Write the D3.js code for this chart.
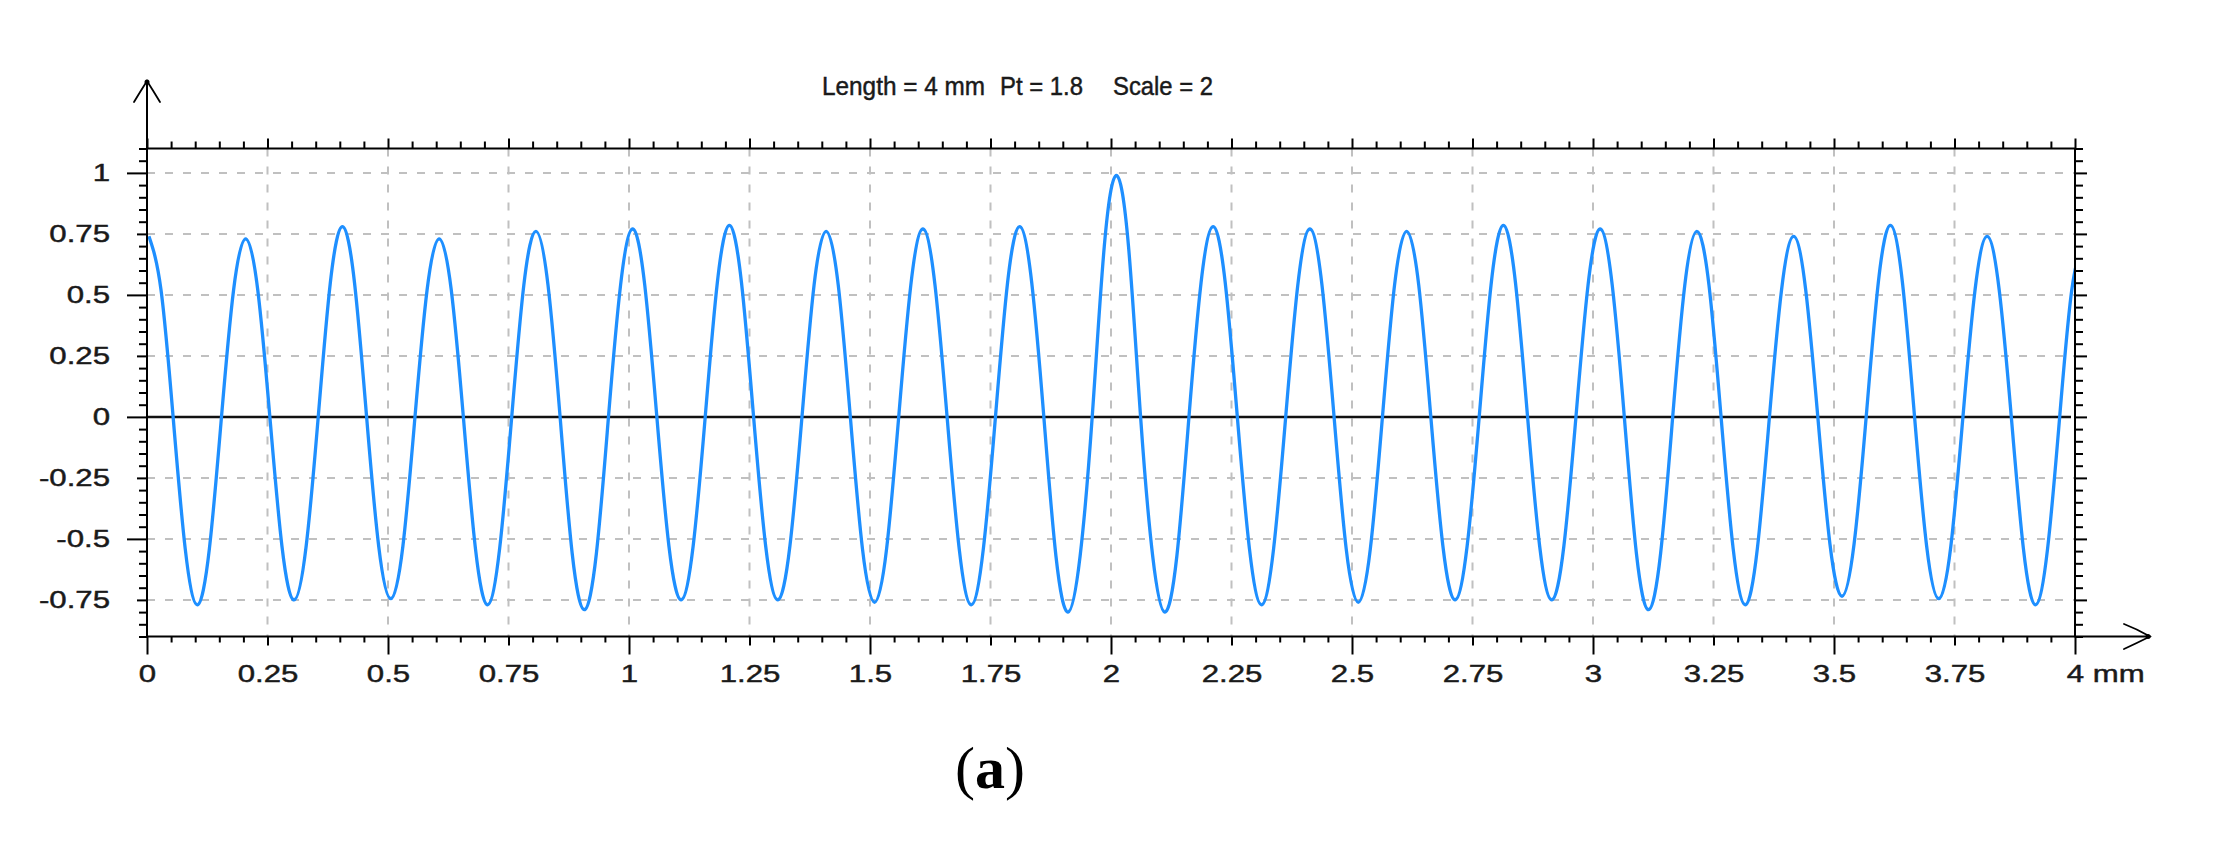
<!DOCTYPE html>
<html><head><meta charset="utf-8">
<script src="https://cdn.jsdelivr.net/npm/d3@7"></script>
<style>html,body{margin:0;padding:0;background:#fff}</style>
</head><body><svg id="chart" width="2226" height="850"></svg>
<script>
// ---------- data ----------
const titleParts = ["Length = 4 mm", "Pt = 1.8", "Scale = 2"];
const xDomain = [0, 4];
const yDomain = [-0.9, 1.1];
const xTickLabels = [0, 0.25, 0.5, 0.75, 1, 1.25, 1.5, 1.75, 2, 2.25, 2.5, 2.75, 3, 3.25, 3.5, 3.75, 4];
const yTickLabels = [-0.75, -0.5, -0.25, 0, 0.25, 0.5, 0.75, 1];
const xUnit = "mm";
const sampleStart = 0.004;   // mm, first sample of the profile
const sampleStep = 0.02509;  // mm between profile samples
const profile = [
  0.74, 0.52, 0, -0.54, -0.77, -0.54, 0, 0.52,
  0.73, 0.52, 0, -0.53, -0.75, -0.53, 0, 0.55,
  0.78, 0.55, 0, -0.53, -0.745, -0.53, 0, 0.52,
  0.73, 0.52, 0, -0.54, -0.77, -0.54, 0, 0.54,
  0.76, 0.54, 0, -0.56, -0.79, -0.56, 0, 0.54,
  0.77, 0.54, 0, -0.53, -0.75, -0.53, 0, 0.55,
  0.785, 0.55, 0, -0.53, -0.75, -0.53, 0, 0.54,
  0.76, 0.54, 0, -0.54, -0.76, -0.54, 0, 0.54,
  0.77, 0.54, 0, -0.54, -0.77, -0.54, 0, 0.55,
  0.78, 0.55, 0, -0.57, -0.80, -0.57, 0, 0.70,
  0.99, 0.70, 0, -0.57, -0.80, -0.57, 0, 0.55,
  0.78, 0.55, 0, -0.54, -0.77, -0.54, 0, 0.54,
  0.77, 0.54, 0, -0.54, -0.76, -0.54, 0, 0.54,
  0.76, 0.54, 0, -0.53, -0.75, -0.53, 0, 0.55,
  0.785, 0.55, 0, -0.53, -0.75, -0.53, 0, 0.54,
  0.77, 0.54, 0, -0.56, -0.79, -0.56, 0, 0.54,
  0.76, 0.54, 0, -0.54, -0.77, -0.54, 0, 0.52,
  0.74, 0.52, 0, -0.52, -0.735, -0.52, 0, 0.55,
  0.785, 0.55, 0, -0.53, -0.745, -0.53, 0, 0.52,
  0.74, 0.52, 0, -0.54, -0.77, -0.54, 0, 0.52,
  0.72
];
const panelLabel = "a";

// ---------- layout ----------
const L = 147, R = 2075, T = 148.5, B = 636.5;
const svg = d3.select("#chart");
svg.append("rect").attr("width", 2226).attr("height", 850).attr("fill", "#fff");

const x = d3.scaleLinear().domain(xDomain).range([L, R]);
const y = d3.scaleLinear().domain(yDomain).range([B, T]);

const FONT = "'Liberation Sans', Arial, sans-serif";
const SX = 1.3; // horizontal stretch of the original bitmap font
const TXT = "#1a1a1a";

// tick value sets (multiples of 0.05)
const xIdx = d3.range(0, 81);
const xMinor = xIdx.filter(i => i % 5 !== 0).map(i => i * 0.05);
const xMid = xIdx.filter(i => i % 5 === 0 && i % 10 !== 0).map(i => i * 0.05);
const xBig = xIdx.filter(i => i % 10 === 0).map(i => i * 0.05);
const xAll5 = xIdx.filter(i => i % 5 === 0).map(i => i * 0.05);
const yIdx = d3.range(-18, 23);
const yMinor = yIdx.filter(i => i % 5 !== 0).map(i => i * 0.05);
const yMid = yIdx.filter(i => i % 5 === 0 && i % 10 !== 0).map(i => i * 0.05);
const yBig = yIdx.filter(i => i % 10 === 0).map(i => i * 0.05);
const yAll5 = yIdx.filter(i => i % 5 === 0).map(i => i * 0.05);

// ---------- grid ----------
const grid = svg.append("g").attr("stroke", "#c0c0c0").attr("stroke-width", 2).attr("stroke-dasharray", "8,10");
grid.selectAll("line.v").data(xTickLabels.filter(d => d > 0 && d < 4)).join("line")
  .attr("x1", d => x(d)).attr("x2", d => x(d)).attr("y1", T).attr("y2", B);
grid.selectAll("line.h").data(yTickLabels.filter(d => d !== 0)).join("line")
  .attr("x1", L).attr("x2", R).attr("y1", d => y(d)).attr("y2", d => y(d));

// zero line
svg.append("line").attr("x1", L).attr("x2", R - 4).attr("y1", y(0)).attr("y2", y(0))
  .attr("stroke", "#111").attr("stroke-width", 2.5);

// ---------- profile ----------
svg.append("clipPath").attr("id", "clip").append("rect")
  .attr("x", L).attr("y", T).attr("width", R - L).attr("height", B - T);
const pts = profile.map((v, i) => [sampleStart + i * sampleStep, v]);
svg.append("path").datum(pts)
  .attr("clip-path", "url(#clip)")
  .attr("fill", "none").attr("stroke", "#1e8fff").attr("stroke-width", 3.3)
  .attr("stroke-linejoin", "round")
  .attr("d", d3.line().x(d => x(d[0])).y(d => y(d[1])).curve(d3.curveNatural));

// ---------- axes (ticks) ----------
function ticks(gen, vals, size, tx, ty) {
  const g = svg.append("g").attr("transform", `translate(${tx},${ty})`)
    .call(gen.tickValues(vals).tickSize(size).tickFormat(""));
  g.select(".domain").remove();
  g.selectAll(".tick line").attr("stroke", "#000").attr("stroke-width", 2);
  return g;
}
// bottom
ticks(d3.axisBottom(x), xMinor, 6, 0, B);
ticks(d3.axisBottom(x), xMid, 9, 0, B);
ticks(d3.axisBottom(x), xBig, 18, 0, B);
// top
ticks(d3.axisTop(x), xMinor, 7, 0, T);
ticks(d3.axisTop(x), xAll5, 10, 0, T);
// left
ticks(d3.axisLeft(y), yMinor, 8, L, 0);
ticks(d3.axisLeft(y), yMid, 10, L, 0);
ticks(d3.axisLeft(y), yBig, 20, L, 0);
// right
ticks(d3.axisRight(y), yMinor, 8, R, 0);
ticks(d3.axisRight(y), yAll5, 12, R, 0);

// frame
svg.append("rect").attr("x", L).attr("y", T).attr("width", R - L).attr("height", B - T)
  .attr("fill", "none").attr("stroke", "#000").attr("stroke-width", 2);

// ---------- tick labels ----------
const fmt = d => String(+d.toFixed(2));
const xl = svg.append("g").attr("transform", `translate(0,${B})`)
  .call(d3.axisBottom(x).tickValues(xTickLabels).tickSize(0).tickPadding(28.5).tickFormat(fmt));
xl.select(".domain").remove();
xl.selectAll("text").attr("font-family", FONT).attr("font-size", 24).attr("fill", TXT)
  .attr("stroke", TXT).attr("stroke-width", 0.45)
  .attr("transform", `scale(${SX},1)`);
xl.selectAll(".tick").filter(d => d === xDomain[1]).select("text")
  .attr("text-anchor", "start").attr("x", -6.7).text(d => fmt(d) + " " + xUnit);

const yl = svg.append("g").attr("transform", `translate(${L},0)`)
  .call(d3.axisLeft(y).tickValues(yTickLabels).tickSize(0).tickPadding(37 / SX).tickFormat(fmt));
yl.select(".domain").remove();
yl.selectAll("text").attr("font-family", FONT).attr("font-size", 24).attr("fill", TXT)
  .attr("stroke", TXT).attr("stroke-width", 0.45)
  .attr("transform", `scale(${SX},1)`);

// ---------- axis arrows ----------
const arr = svg.append("g").attr("stroke", "#000").attr("fill", "none").attr("stroke-width", 2)
  .attr("stroke-linecap", "round");
arr.append("line").attr("x1", L).attr("x2", L).attr("y1", T).attr("y2", 81);
arr.append("path").attr("d", `M${L - 13},${102} Q${L - 7},${92} ${L},${81} Q${L + 7},${92} ${L + 13},${102}`)
  .attr("stroke-width", 1.8);
svg.append("circle").attr("cx", L).attr("cy", 82).attr("r", 2.5).attr("fill", "#000");
arr.append("line").attr("x1", R).attr("x2", 2150).attr("y1", B).attr("y2", B);
arr.append("path").attr("d", `M2124,624 Q2137,629 2150,${B} Q2137,643 2124,649`).attr("stroke-width", 1.8);
svg.append("circle").attr("cx", 2148).attr("cy", B).attr("r", 2.5).attr("fill", "#000");

// ---------- title ----------
const titlePos = [[822, 163], [1000, 83], [1113, 100]];
svg.append("g").selectAll("text").data(titleParts).join("text")
  .attr("x", (d, i) => titlePos[i][0]).attr("y", 95)
  .attr("textLength", (d, i) => titlePos[i][1]).attr("lengthAdjust", "spacingAndGlyphs")
  .attr("font-family", FONT).attr("font-size", 25).attr("fill", TXT)
  .attr("stroke", TXT).attr("stroke-width", 0.45)
  .text(d => d);

// ---------- panel label ----------
const pl = svg.append("text").attr("x", 990).attr("y", 788).attr("text-anchor", "middle")
  .attr("font-family", "'Liberation Serif', 'Times New Roman', serif").attr("font-size", 60).attr("fill", "#000");
pl.append("tspan").text("(");
pl.append("tspan").attr("font-weight", "bold").text(panelLabel);
pl.append("tspan").text(")");
</script>
</body></html>
